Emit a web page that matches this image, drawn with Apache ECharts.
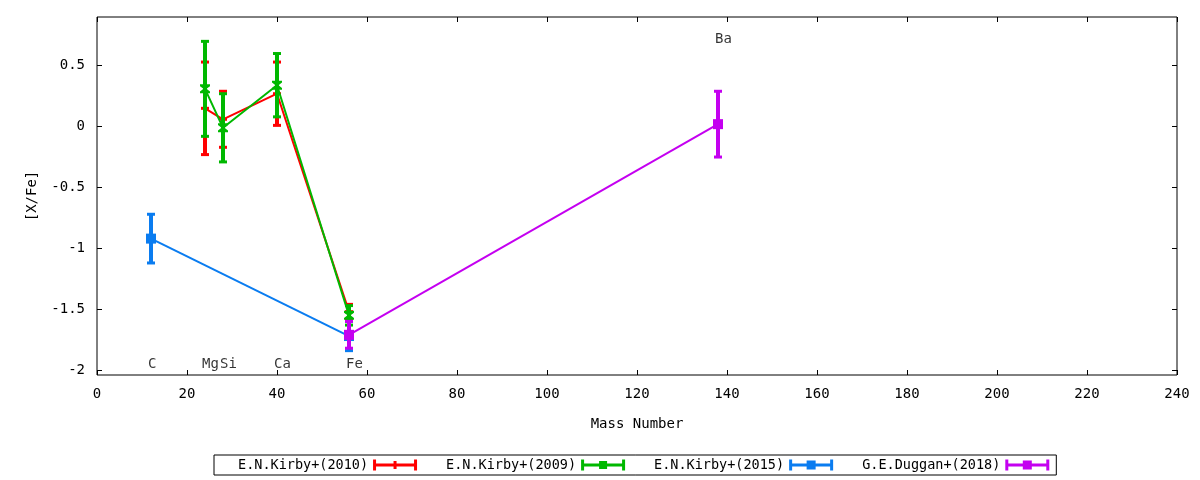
<!DOCTYPE html>
<html>
<head>
<meta charset="utf-8">
<script src="https://cdn.jsdelivr.net/npm/echarts@6/dist/echarts.min.js"></script>
<style>
html,body{margin:0;padding:0;background:#fff;}
#chart{width:1200px;height:480px;}
</style>
</head>
<body>
<div id="chart"></div>
<script>
// ---- data ----
const kirby2010X = [24, 28, 40, 56];
const kirby2010Y = [0.15, 0.06, 0.27, -1.52];
const kirby2010Err = [0.38, 0.23, 0.26, 0.06];

const kirby2009X = [24, 28, 40, 56];
const kirby2009Y = [0.31, -0.01, 0.34, -1.55];
const kirby2009Err = [0.39, 0.28, 0.26, 0.08];

const kirby2015X = [12, 56];
const kirby2015Y = [-0.92, -1.72];
const kirby2015Err = [0.20, 0.12];

const duggan2018X = [56, 138];
const duggan2018Y = [-1.71, 0.02];
const duggan2018Err = [0.11, 0.27];

const elementNames = ['C', 'Mg', 'Si', 'Ca', 'Fe', 'Ba'];
const elementX = [12, 24, 28, 40, 56, 138];
const elementLabelY = [-1.955, -1.955, -1.955, -1.955, -1.955, 0.72];

const xTicks = [0, 20, 40, 60, 80, 100, 120, 140, 160, 180, 200, 220, 240];
const yTicks = [-2, -1.5, -1, -0.5, 0, 0.5];

const seriesNames = ['E.N.Kirby+(2010)', 'E.N.Kirby+(2009)', 'E.N.Kirby+(2015)', 'G.E.Duggan+(2018)'];
// ---- end data ----

const FONT = 'DejaVu Sans Mono';
const colors = ['#ff0000', '#00b800', '#0a7cf0', '#c400f0'];
const sets = [
  [kirby2010X, kirby2010Y, kirby2010Err],
  [kirby2009X, kirby2009Y, kirby2009Err],
  [kirby2015X, kirby2015Y, kirby2015Err],
  [duggan2018X, duggan2018Y, duggan2018Err]
];
const symbols = [
  {symbol: 'rect', size: [8, 3]},
  {symbol: 'path://M0,0L10,0L10,2L6.5,5L10,8L10,10L0,10L0,8L3.5,5L0,2Z', size: [10, 9]},
  {symbol: 'rect', size: 10},
  {symbol: 'rect', size: 10}
];
const iconBase = 'M0,0h3v11h-3z M41,0h3v11h-3z M0,4h44v3h-44z';
const icons = [
  'path://' + iconBase + ' M20.5,1.5h3v8h-3z',
  'path://' + iconBase + ' M18,1.5h8v8h-8z',
  'path://' + iconBase + ' M17.5,1h9v9h-9z',
  'path://' + iconBase + ' M17.5,1h9v9h-9z'
];

function errRender(color) {
  return function (params, api) {
    const x = api.value(0), y = api.value(1), e = api.value(2);
    const top = api.coord([x, y + e]);
    const bot = api.coord([x, y - e]);
    const hw = 4, bw = 2;
    return {
      type: 'group',
      children: [
        {type: 'rect', shape: {x: top[0] - bw, y: top[1], width: bw * 2, height: bot[1] - top[1]}, style: {fill: color}},
        {type: 'rect', shape: {x: top[0] - hw, y: top[1] - 1.5, width: hw * 2, height: 3}, style: {fill: color}},
        {type: 'rect', shape: {x: bot[0] - hw, y: bot[1] - 1.5, width: hw * 2, height: 3}, style: {fill: color}}
      ]
    };
  };
}

const series = [];
sets.forEach((s, i) => {
  const [xs, ys, es] = s;
  series.push({
    name: seriesNames[i] + ' ',
    type: 'line',
    data: xs.map((x, k) => [x, ys[k]]),
    lineStyle: {color: colors[i], width: 2},
    itemStyle: {color: colors[i]},
    symbol: symbols[i].symbol,
    symbolSize: symbols[i].size,
    showSymbol: true,
    z: 10 + i * 2 + 1,
    silent: true
  });
  series.push({
    name: seriesNames[i],
    type: 'custom',
    data: xs.map((x, k) => [x, ys[k], es[k]]),
    encode: {x: 0, y: 1},
    itemStyle: {color: colors[i]},
    renderItem: errRender(colors[i]),
    z: 10 + i * 2,
    silent: true
  });
});

series.push({
  type: 'scatter',
  data: elementX.map((x, k) => [x, elementLabelY[k], elementNames[k]]),
  symbolSize: 0,
  silent: true,
  label: {
    show: true,
    position: 'inside',
    align: 'left',
    offset: [-3, 0],
    formatter: p => p.value[2],
    color: '#000',
    fontFamily: FONT,
    fontSize: 14
  },
  z: 30
});

const tickStyle = {show: true, inside: true, length: 5, lineStyle: {color: '#000', width: 1}};

const chart = echarts.init(document.getElementById('chart'));
chart.setOption({
  animation: false,
  backgroundColor: '#fff',
  grid: {left: 97, right: 23, top: 17, bottom: 105, show: true, borderColor: '#000', borderWidth: 1, backgroundColor: 'transparent'},
  legend: {
    data: seriesNames.map((n, i) => ({name: n, icon: icons[i], itemStyle: {color: colors[i]}})),
    left: 214,
    top: 455,
    align: 'right',
    itemWidth: 44,
    itemHeight: 11,
    itemGap: 29,
    padding: [3, 7, 3, 24],
    borderColor: '#000',
    borderWidth: 1,
    borderRadius: 0,
    textStyle: {color: '#000', fontFamily: FONT, fontSize: 13.5},
    selectedMode: false
  },
  xAxis: [{
    type: 'value', min: 0, max: 240, interval: 20, position: 'bottom',
    name: 'Mass Number', nameLocation: 'middle', nameGap: 42,
    nameTextStyle: {color: '#000', fontFamily: FONT, fontSize: 14},
    axisLine: {show: false, onZero: false},
    axisTick: Object.assign({customValues: xTicks}, tickStyle),
    axisLabel: {color: '#000', fontFamily: FONT, fontSize: 14, margin: 12, customValues: xTicks},
    splitLine: {show: false}
  }, {
    type: 'value', min: 0, max: 240, interval: 20, position: 'top',
    axisLine: {show: false, onZero: false},
    axisTick: Object.assign({customValues: xTicks}, tickStyle),
    axisLabel: {show: false},
    splitLine: {show: false}
  }],
  yAxis: [{
    type: 'value', min: -2.04, max: 0.9, position: 'left',
    name: '[X/Fe]', nameLocation: 'middle', nameGap: 58, nameRotate: 90,
    nameTextStyle: {color: '#000', fontFamily: FONT, fontSize: 14},
    axisLine: {show: false, onZero: false},
    axisTick: Object.assign({customValues: yTicks}, tickStyle),
    axisLabel: {color: '#000', fontFamily: FONT, fontSize: 14, margin: 12, customValues: yTicks},
    splitLine: {show: false}
  }, {
    type: 'value', min: -2.04, max: 0.9, position: 'right',
    axisLine: {show: false, onZero: false},
    axisTick: Object.assign({customValues: yTicks}, tickStyle),
    axisLabel: {show: false},
    splitLine: {show: false}
  }],
  series: series
});
</script>
</body>
</html>
